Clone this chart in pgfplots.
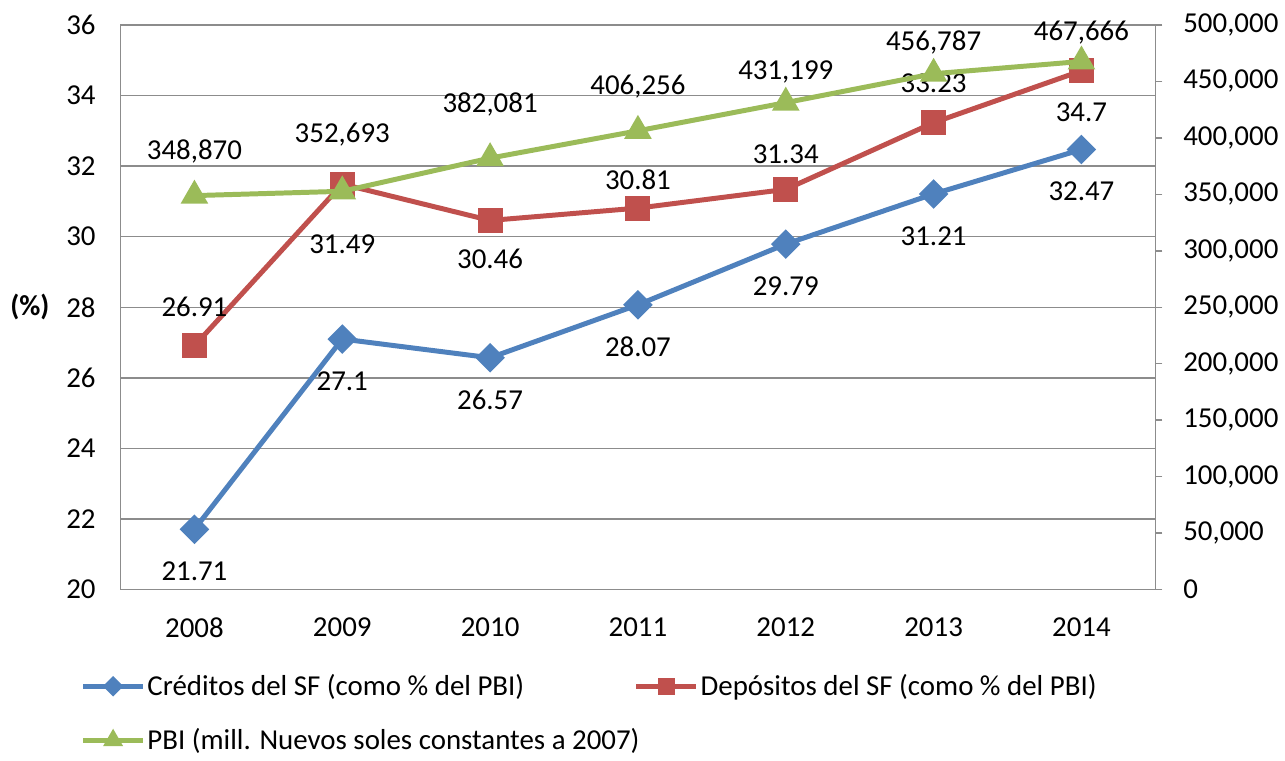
\documentclass[border=0pt]{standalone}
\usepackage{fontspec}
\setmainfont{Carlito}
\usepackage{pgfplots}
\pgfplotsset{compat=1.18}
\usepackage{pgfplotstable}
\definecolor{cblue}{HTML}{4F81BD}
\definecolor{cred}{HTML}{C0504D}
\definecolor{cgreen}{HTML}{9BBB59}
\definecolor{gridc}{HTML}{8C8C8C}

\pgfplotstableread{
x y lab dy
0 21.71 21.71 -21
1 27.1 27.1 -21
2 26.57 26.57 -21
3 28.07 28.07 -21
4 29.79 29.79 -21
5 31.21 31.21 -21
6 32.47 32.47 -21
}\tcred

\pgfplotstableread{
x y lab dy
0 26.91 26.91 19.5
1 31.49 31.49 -30
2 30.46 30.46 -19.5
3 30.81 30.81 14
4 31.34 31.34 17.5
5 33.23 33.23 20
6 34.7 34.7 -21
}\tdep

\pgfplotstableread{
x y lab dy
0 348870 348,870 22
1 352693 352,693 28.5
2 382081 382,081 27
3 406256 406,256 22
4 431199 431,199 15.5
5 456787 456,787 15.5
6 467666 467,666 14.5
}\tpbi

\newcommand{\fs}{\fontsize{14.5}{17.5}\selectfont}

\begin{document}
\begin{tikzpicture}
\pgfplotsset{
  common/.style={
    scale only axis, width=519.5pt, height=283.5pt,
    xmin=-0.5, xmax=6.5,
    /pgf/number format/assume math mode=true,
    tick label style={font=\fs, text=black},
    nodes near coords, point meta=explicit symbolic,
    visualization depends on={\thisrow{dy} \as \dy},
    nodes near coords style={font=\fs, text=black, anchor=center, yshift=\dy pt},
  },
  legend image code/.code={\draw[mark repeat=2, mark phase=2, /tikz/every mark/.append style={scale=0.6}] plot coordinates {(0pt,0pt)(15pt,0pt)(30pt,0pt)};},
}
\begin{axis}[common,
  name=main,
  ymin=20, ymax=36, ytick={20,22,...,36},
  xtick={0,...,6}, xticklabels={2008,2009,2010,2011,2012,2013,2014},
  major tick length=0pt,
  ymajorgrids, grid style={gridc, line width=0.75pt},
  axis line style={gridc, line width=0.75pt},
  xticklabel style={anchor=center, yshift=-19pt},
  yticklabel style={anchor=east, xshift=-9pt},
  every axis y label/.style={at={(axis description cs:0,0.5)}, anchor=center, xshift=-45.5pt, font=\fs\bfseries},
  ylabel={(\%)},
  legend columns=2,
  legend cell align=left,
  legend style={at={(-0.0446,-0.135)}, anchor=north west, draw=none, fill=none, font=\fs,
    /tikz/every even column/.append style={column sep=54pt}, row sep=11pt,
    nodes={inner xsep=1pt}},
]
\addplot[cblue, line width=2.5pt, mark=square*, mark size=4pt, mark options={rotate=45}]
  table[x=x, y=y, meta=lab] {\tcred};
\addlegendentry{Créditos del SF (como \% del PBI)}
\addplot[cred, line width=2.5pt, mark=square*, mark size=5pt]
  table[x=x, y=y, meta=lab] {\tdep};
\addlegendentry{Depósitos del SF (como \% del PBI)}
\addlegendimage{cgreen, line width=2.5pt, mark=triangle*, mark size=5.5pt}
\addlegendentry{\makebox[188pt][l]{PBI (mill. Nuevos soles constantes a 2007)}}
\end{axis}
\begin{axis}[common,
  axis x line=none, axis y line*=right,
  ymin=0, ymax=500000, ytick={0,50000,...,500000},
  scaled y ticks=false,
  yticklabel style={/pgf/number format/fixed, /pgf/number format/1000 sep={,}, anchor=west, xshift=7pt},
  tick align=outside, major tick length=3.5pt,
  tick style={gridc, line width=0.75pt},
  axis line style={gridc, line width=0.75pt},
]
\addplot[cgreen, line width=2.5pt, mark=triangle*, mark size=5.5pt]
  table[x=x, y=y, meta=lab] {\tpbi};
\end{axis}
\path[use as bounding box] ([xshift=-60.5pt, yshift=-82.5pt]main.south west) rectangle ([xshift=62.5pt, yshift=12.5pt]main.north east);
\end{tikzpicture}
\end{document}
